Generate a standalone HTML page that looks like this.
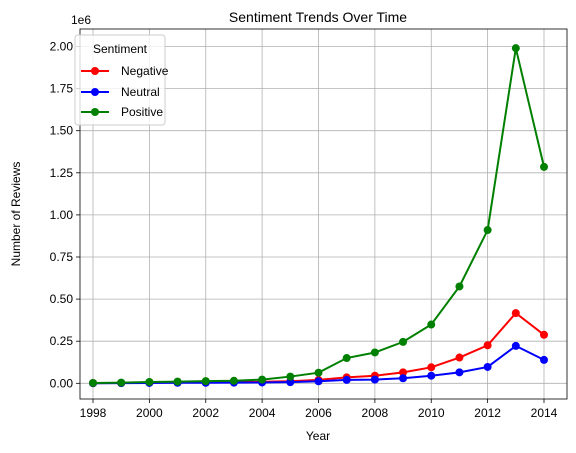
<!DOCTYPE html>
<html><head><meta charset="utf-8"><style>body{margin:0;background:#fff}svg{display:block;font-family:"Liberation Sans","DejaVu Sans",sans-serif}</style></head>
<body>
<svg id="chart" width="576" height="453" viewBox="0 0 576 453"></svg>
<script>
const years=[1998,1999,2000,2001,2002,2003,2004,2005,2006,2007,2008,2009,2010,2011,2012,2013,2014];
const negative=[0.001,0.002,0.004,0.005,0.006,0.007,0.009,0.012,0.02,0.035,0.045,0.065,0.095,0.153,0.226,0.417,0.288];
const neutral=[0.0005,0.001,0.002,0.003,0.003,0.004,0.005,0.007,0.012,0.02,0.022,0.03,0.045,0.065,0.097,0.222,0.139];
const positive=[0.002,0.004,0.008,0.01,0.013,0.015,0.022,0.04,0.063,0.15,0.183,0.246,0.349,0.575,0.91,1.99,1.285];
const xTicks=[1998,2000,2002,2004,2006,2008,2010,2012,2014];
const yTicks=[0,0.25,0.5,0.75,1.0,1.25,1.5,1.75,2.0];
const yLabels=["0.00","0.25","0.50","0.75","1.00","1.25","1.50","1.75","2.00"];
const L=80,R=567,T=29,B=399;
const X=v=>93+(v-1998)*(544-93)/16;
const Y=v=>383.3-v*168.4;
const svg=document.getElementById('chart');const NS='http://www.w3.org/2000/svg';
function mk(t,a,p){const e=document.createElementNS(NS,t);for(const k in a)e.setAttribute(k,a[k]);(p||svg).appendChild(e);return e;}
xTicks.forEach(t=>{const g=mk('line',{x1:X(t),x2:X(t),y1:T,y2:B,stroke:'#b0b0b0','stroke-width':0.8});


mk('line',{x1:X(t),x2:X(t),y1:B,y2:B+4,stroke:'#000','stroke-width':0.8});
const tx=mk('text',{x:X(t),y:B+18,'text-anchor':'middle','font-size':12});tx.textContent=t;

});
yTicks.forEach((t,i)=>{const g=mk('line',{x1:L,x2:R,y1:Y(t),y2:Y(t),stroke:'#b0b0b0','stroke-width':0.8});


mk('line',{x1:L-4,x2:L,y1:Y(t),y2:Y(t),stroke:'#000','stroke-width':0.8});
const tx=mk('text',{x:L-7,y:Y(t)+4,'text-anchor':'end','font-size':12});tx.textContent=yLabels[i];

});
const fr=mk('rect',{x:L,y:T,width:R-L,height:B-T,fill:'none',stroke:'#000','stroke-width':0.8});


[[negative,'#ff0000','negative'],[neutral,'#0000ff','neutral'],[positive,'#008000','positive']].forEach(([d,c,n])=>{
const g=mk('g',{});


mk('polyline',{points:d.map((v,i)=>X(years[i])+','+Y(v)).join(' '),fill:'none',stroke:c,'stroke-width':2},g);
d.forEach((v,i)=>{const p=mk('circle',{cx:X(years[i]),cy:Y(v),r:4,fill:c},g);

});});
</script>
<svg width="576" height="453" style="position:absolute;left:0;top:0" font-family="Liberation Sans, DejaVu Sans, sans-serif">
<text x="71" y="24" font-size="12">1e6</text>
<text x="318" y="22" font-size="14" text-anchor="middle">Sentiment Trends Over Time</text>
<text x="318" y="440" font-size="12" text-anchor="middle">Year</text>
<text x="20" y="214" font-size="12" text-anchor="middle" transform="rotate(-90 20 214)">Number of Reviews</text>
<g>
<rect x="75" y="35" width="90" height="90" rx="3" fill="#fff" fill-opacity="0.8" stroke="#ccc"/>
<text x="120" y="53" font-size="12" text-anchor="middle">Sentiment</text>
<g><line x1="81" x2="109" y1="71" y2="71" stroke="#ff0000" stroke-width="2"/><circle cx="95" cy="71" r="4" fill="#ff0000"/><text x="121" y="75" font-size="12">Negative</text></g>
<g><line x1="81" x2="109" y1="92" y2="92" stroke="#0000ff" stroke-width="2"/><circle cx="95" cy="92" r="4" fill="#0000ff"/><text x="121" y="96" font-size="12">Neutral</text></g>
<g><line x1="81" x2="109" y1="112" y2="112" stroke="#008000" stroke-width="2"/><circle cx="95" cy="112" r="4" fill="#008000"/><text x="121" y="116" font-size="12">Positive</text></g>
</g>
</svg>
</body></html>
